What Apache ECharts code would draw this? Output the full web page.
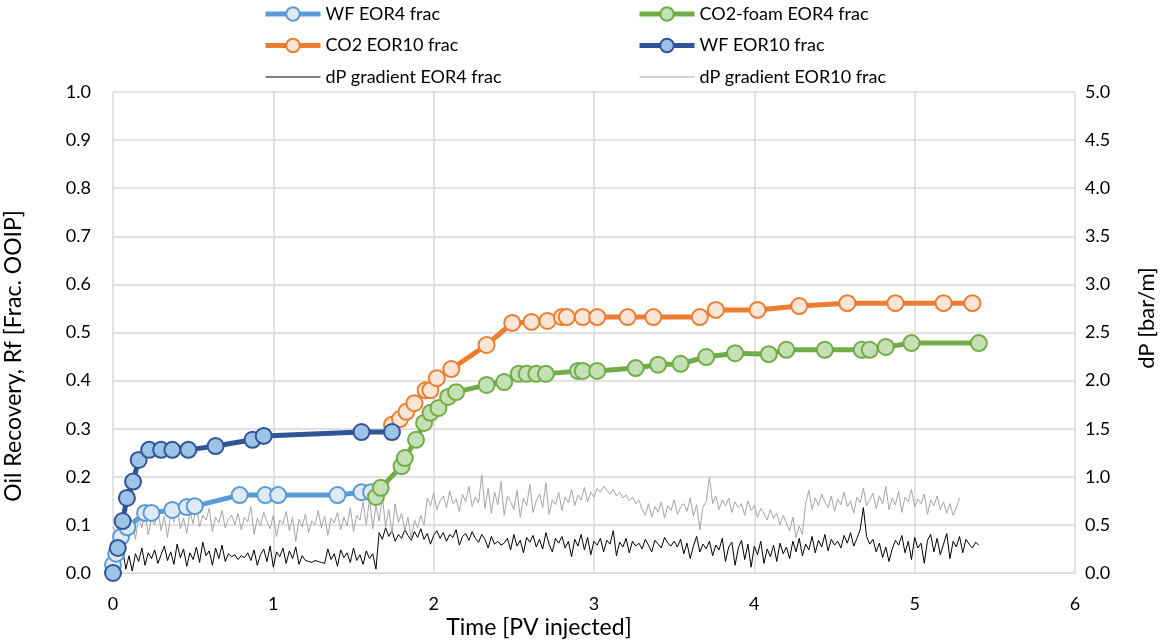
<!DOCTYPE html>
<html>
<head>
<meta charset="utf-8">
<script src="https://cdn.jsdelivr.net/npm/echarts@6/dist/echarts.min.js"></script>
<style>
html,body{margin:0;padding:0;background:#fff;}
#chart{width:1161px;height:641px;}
</style>
</head>
<body>
<div id="chart"></div>
<script>
// ---- Data ----
const wfEor4T = [0, 0.02, 0.05, 0.09, 0.2, 0.24, 0.37, 0.46, 0.51, 0.79, 0.95, 1.03, 1.4, 1.55, 1.61];
const wfEor4V = [0.017, 0.04, 0.075, 0.095, 0.125, 0.125, 0.131, 0.137, 0.139, 0.162, 0.162, 0.162, 0.162, 0.168, 0.168];

const co2FoamT = [1.64, 1.67, 1.80, 1.82, 1.89, 1.94, 1.98, 2.03, 2.09, 2.14, 2.33, 2.44, 2.53, 2.58, 2.64, 2.70, 2.90, 2.93, 3.02, 3.26, 3.40, 3.54, 3.70, 3.88, 4.09, 4.20, 4.44, 4.67, 4.72, 4.82, 4.98, 5.40];
const co2FoamV = [0.158, 0.177, 0.222, 0.239, 0.277, 0.312, 0.333, 0.343, 0.366, 0.376, 0.391, 0.397, 0.414, 0.414, 0.414, 0.414, 0.420, 0.420, 0.420, 0.426, 0.433, 0.435, 0.449, 0.457, 0.455, 0.464, 0.464, 0.464, 0.464, 0.470, 0.478, 0.478];

const co2Eor10T = [1.74, 1.79, 1.83, 1.88, 1.95, 1.98, 2.02, 2.11, 2.33, 2.49, 2.61, 2.71, 2.80, 2.83, 2.93, 3.02, 3.21, 3.37, 3.66, 3.76, 4.02, 4.28, 4.58, 4.88, 5.18, 5.36];
const co2Eor10V = [0.308, 0.320, 0.335, 0.353, 0.380, 0.380, 0.405, 0.424, 0.474, 0.520, 0.522, 0.524, 0.532, 0.532, 0.532, 0.532, 0.532, 0.532, 0.532, 0.547, 0.547, 0.555, 0.561, 0.561, 0.561, 0.561];

const wfEor10T = [0, 0.03, 0.06, 0.087, 0.125, 0.16, 0.225, 0.30, 0.37, 0.47, 0.64, 0.87, 0.94, 1.55, 1.74];
const wfEor10V = [0.0, 0.052, 0.108, 0.156, 0.19, 0.235, 0.256, 0.256, 0.256, 0.256, 0.264, 0.277, 0.285, 0.293, 0.293];

// dP gradient logs (bar/m), sampled every 0.02 PV
const dpEor4Start = 0.02, dpEor4Step = 0.02;
const dpEor4 = [
0.22,0.10,0.25,0.04,0.18,0.02,0.20,0.12,0.26,0.08,
0.21,0.15,0.24,0.10,0.19,0.28,0.13,0.22,0.09,0.30,
0.16,0.25,0.07,0.21,0.14,0.27,0.11,0.32,0.18,0.23,
0.08,0.26,0.15,0.29,0.12,0.20,0.17,0.19,0.14,0.18,
0.16,0.21,0.13,0.24,0.08,0.19,0.25,0.12,0.28,0.06,
0.22,0.17,0.26,0.10,0.23,0.15,0.27,0.09,0.18,0.13,
0.12,0.11,0.13,0.12,0.11,0.10,0.25,0.14,0.20,0.07,
0.24,0.16,0.21,0.11,0.26,0.13,0.19,0.09,0.23,0.15,
0.20,0.04,
0.42,0.35,0.47,0.38,0.44,0.33,0.40,0.36,0.45,0.39,
0.34,0.43,0.37,0.46,0.35,0.41,0.30,0.39,0.44,0.36,
0.42,0.33,0.40,0.37,0.45,0.29,0.38,0.41,0.34,0.43,
0.36,0.32,0.40,
0.35,0.26,0.38,0.30,0.33,0.29,0.31,0.36,0.24,0.40,
0.28,0.34,0.21,0.37,0.32,0.39,0.27,0.35,0.25,0.42,
0.30,0.22,0.36,0.31,0.38,0.26,0.33,0.17,0.35,0.28,
0.40,0.24,0.37,0.19,0.33,0.29,0.36,0.22,0.34,0.30,
0.44,0.18,0.32,0.27,0.36,0.21,0.33,0.28,0.31,0.25,
0.35,0.29,0.22,0.34,0.30,0.26,0.37,0.31,0.28,0.33,
0.27,0.35,0.20,0.31,0.15,0.28,0.38,0.22,0.30,0.25,
0.33,0.18,0.29,0.24,0.36,0.12,0.27,0.32,0.08,0.26,
0.34,0.14,0.30,0.06,0.28,0.19,0.33,0.10,0.25,0.17,
0.29,0.12,0.31,0.20,0.27,0.15,0.33,0.22,0.36,0.18,
0.30,0.24,0.38,0.21,0.34,0.27,0.40,0.23,0.35,0.29,
0.33,0.26,0.39,0.31,0.42,0.28,0.36,0.45,0.68,0.38,
0.30,0.35,0.22,0.31,0.16,0.27,0.12,0.25,0.34,0.29,
0.39,0.21,0.33,0.14,0.37,0.26,0.31,0.10,0.34,0.40,
0.22,0.36,0.19,0.30,0.41,0.15,0.33,0.27,0.38,0.21,
0.35,0.30,0.26,0.32,0.29
];
const dpEor10Start = 0.0, dpEor10Step = 0.02;
const dpEor10 = [
0.48,0.42,0.55,0.38,0.60,0.45,0.52,0.35,0.58,0.47,
0.63,0.40,0.56,0.50,0.66,0.44,0.59,0.37,0.62,0.53,
0.70,0.46,0.57,0.41,0.64,0.51,0.72,0.48,0.60,0.55,
0.67,0.43,0.58,0.52,0.65,0.47,0.56,0.60,0.50,0.62,
0.45,0.58,0.53,0.69,0.40,0.57,0.49,0.63,0.54,0.46,
0.60,0.38,0.55,0.51,0.64,0.44,0.58,0.33,0.56,0.48,
0.61,0.42,0.54,0.50,0.65,0.47,0.59,0.39,0.57,0.52,
0.63,0.45,0.58,0.49,0.68,0.43,0.60,0.55,0.74,0.50,
0.78,0.46,0.70,0.54,0.80,0.48,0.66,0.41,0.72,0.52,
0.62,0.44,0.58,0.36,0.55,0.47,0.60,0.50,
0.78,0.70,0.83,0.66,0.75,0.80,0.68,0.85,0.72,0.77,
0.64,0.82,0.74,0.90,0.69,0.79,0.73,1.02,0.67,0.88,
0.62,0.84,0.71,0.95,0.60,0.80,0.74,0.66,0.86,0.58,
0.78,0.70,0.92,0.63,0.75,0.82,0.68,0.94,0.61,0.76,
0.71,0.84,0.65,0.79,0.73,0.87,0.70,0.81,0.76,0.89,
0.74,0.84,0.79,
0.88,0.84,0.90,0.86,0.82,0.87,0.80,0.84,0.78,0.81,0.75,0.79,0.72,0.76,
0.66,0.60,0.72,0.58,0.69,0.63,0.74,0.57,0.70,0.65,
0.76,0.61,0.68,0.72,0.64,0.78,0.59,0.71,0.45,0.69,0.74,
1.00,0.72,0.80,0.66,0.76,0.70,0.78,0.63,0.74,0.68,
0.72,0.60,0.75,0.65,0.70,0.58,0.67,0.62,0.55,0.66,
0.57,0.62,0.50,0.60,0.52,0.44,0.58,0.37,0.49,0.40,
0.72,0.86,0.66,0.78,0.70,0.82,0.74,0.68,0.80,0.64,
0.77,0.71,0.84,0.69,0.75,0.62,0.79,0.73,0.88,0.70,
0.76,0.83,0.67,0.80,0.72,0.90,0.66,0.78,0.71,0.85,
0.63,0.79,0.74,0.87,0.69,0.77,0.72,0.82,0.61,0.76,
0.70,0.80,0.66,0.74,0.62,0.72,0.60,0.68,0.78
];

const xTicks = [0, 1, 2, 3, 4, 5, 6];

// ---- Build ----
function pairs(t, v) { return t.map((x, i) => [x, v[i]]); }
function sampled(start, step, v) { return v.map((y, i) => [+(start + i * step).toFixed(3), y]); }

const FONT = 'Lato';
const chart = echarts.init(document.getElementById('chart'), null, { renderer: 'canvas' });

function markerSeries(name, data, lineColor, fillColor) {
  return {
    name, type: 'line', data,
    xAxisIndex: 0, yAxisIndex: 0,
    symbol: 'circle', symbolSize: 16,
    lineStyle: { color: lineColor, width: 5 },
    itemStyle: { color: fillColor, borderColor: lineColor, borderWidth: 2 },
    emphasis: { disabled: true },
    animation: false
  };
}

const legendCommon = {
  top: 5, orient: 'vertical', padding: 0, itemGap: 13.5, itemWidth: 55, itemHeight: 17,
  textStyle: { fontFamily: FONT, fontSize: 18, color: '#000' },
  lineStyle: { width: 'inherit' }
};
const thinItem = name => ({ name, itemStyle: { opacity: 0 }, lineStyle: { width: 1.2 } });

const option = {
  backgroundColor: '#ffffff',
  animation: false,
  grid: { left: 113, right: 86, top: 92, bottom: 68 },
  legend: [
    Object.assign({ left: 263, data: ['WF EOR4 frac', 'CO2 EOR10 frac', thinItem('dP gradient EOR4 frac')] }, legendCommon),
    Object.assign({ left: 637, data: ['CO2-foam EOR4 frac', 'WF EOR10 frac', thinItem('dP gradient EOR10 frac')] }, legendCommon)
  ],
  xAxis: {
    type: 'value', min: xTicks[0], max: xTicks[xTicks.length - 1], interval: 1,
    axisLine: { show: true, lineStyle: { color: '#D9D9D9' } },
    axisTick: { show: false },
    axisLabel: { fontFamily: FONT, fontSize: 18, color: '#000', margin: 22 },
    splitLine: { show: true, lineStyle: { color: '#D9D9D9', width: 1.5 } }
  },
  yAxis: [
    {
      type: 'value', min: 0, max: 1, interval: 0.1,
      axisLine: { show: false }, axisTick: { show: false },
      axisLabel: { fontFamily: FONT, fontSize: 18, color: '#000', margin: 22, formatter: v => v.toFixed(1) },
      splitLine: { show: true, lineStyle: { color: '#D9D9D9', width: 1.5 } }
    },
    {
      type: 'value', min: 0, max: 5, interval: 0.5, position: 'right',
      axisLine: { show: false }, axisTick: { show: false },
      axisLabel: { fontFamily: FONT, fontSize: 18, color: '#000', margin: 10, formatter: v => v.toFixed(1) },
      splitLine: { show: false }
    }
  ],
  graphic: [
    { type: 'text', x: 14, y: 356, rotation: Math.PI / 2,
      style: { text: 'Oil Recovery, Rf [Frac. OOIP]', font: '23px Lato', fill: '#000', align: 'center', verticalAlign: 'middle' } },
    { type: 'text', x: 1147, y: 318, rotation: Math.PI / 2,
      style: { text: 'dP [bar/m]', font: '22px Lato', fill: '#000', align: 'center', verticalAlign: 'middle' } },
    { type: 'text', x: 539, y: 628,
      style: { text: 'Time [PV injected]', font: '23px Lato', fill: '#000', align: 'center', verticalAlign: 'middle' } }
  ],
  series: [
    markerSeries('WF EOR4 frac', pairs(wfEor4T, wfEor4V), '#5B9BD5', '#DEEBF7'),
    markerSeries('CO2-foam EOR4 frac', pairs(co2FoamT, co2FoamV), '#70AD47', '#C5E0B4'),
    markerSeries('CO2 EOR10 frac', pairs(co2Eor10T, co2Eor10V), '#ED7D31', '#FBE5D6'),
    markerSeries('WF EOR10 frac', pairs(wfEor10T, wfEor10V), '#2F5597', '#9DC3E6'),
    {
      name: 'dP gradient EOR4 frac', type: 'line', xAxisIndex: 0, yAxisIndex: 1,
      data: sampled(dpEor4Start, dpEor4Step, dpEor4),
      showSymbol: false, symbol: 'none',
      lineStyle: { color: '#000000', width: 1 }, itemStyle: { color: '#000000' },
      emphasis: { disabled: true }
    },
    {
      name: 'dP gradient EOR10 frac', type: 'line', xAxisIndex: 0, yAxisIndex: 1,
      data: sampled(dpEor10Start, dpEor10Step, dpEor10),
      showSymbol: false, symbol: 'none',
      lineStyle: { color: '#A5A5A5', width: 1 }, itemStyle: { color: '#A5A5A5' },
      emphasis: { disabled: true }
    }
  ]
};
chart.setOption(option);
</script>
</body>
</html>
